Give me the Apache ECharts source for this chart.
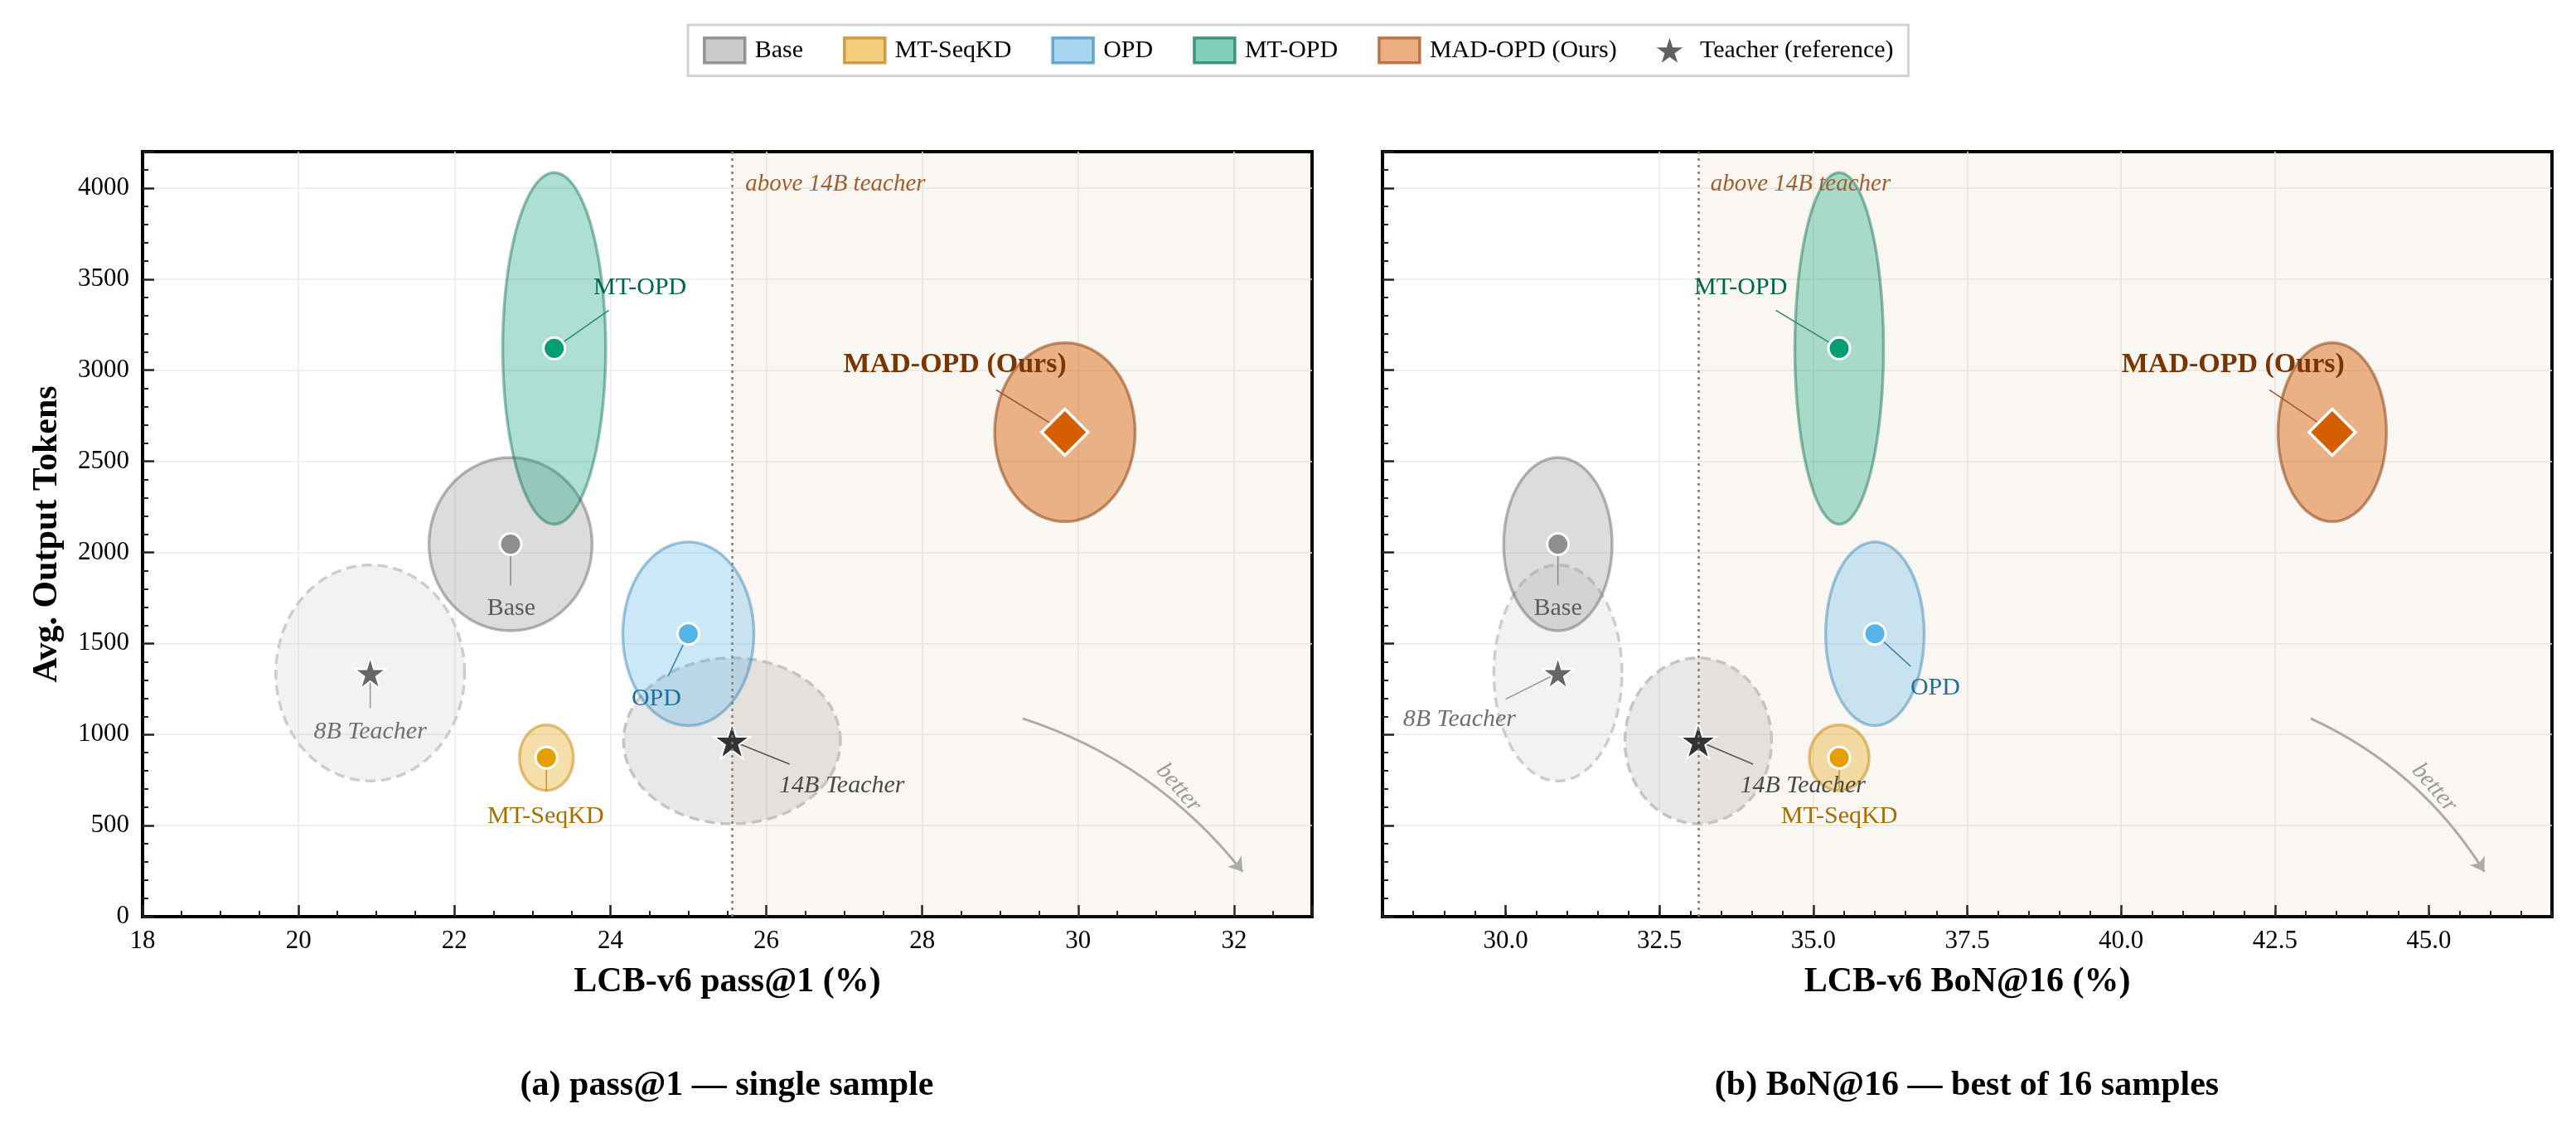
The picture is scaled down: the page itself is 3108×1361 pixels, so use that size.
<!DOCTYPE html>
<html>
<head>
<meta charset="utf-8">
<script src="https://cdn.jsdelivr.net/npm/echarts@6/dist/echarts.min.js"></script>
<style>
  html, body { margin: 0; padding: 0; background: #fff; }
  #chart { width: 3108px; height: 1361px; }
</style>
</head>
<body>
<div id="chart"></div>
<script>
// ---- data ----
var methods = ['Base', 'MT-SeqKD', 'OPD', 'MT-OPD', 'MAD-OPD (Ours)'];
var teachers = ['8B Teacher', '14B Teacher'];

// avg output tokens (same in both panels) and spread
var tokens = [2045, 873, 1553, 3120, 2660];
var tokensSd = [475, 180, 504, 965, 491];
var teacherTokens = [1338, 965];
var teacherTokensSd = [593, 455];

// (a) pass@1
var pass1 = [22.72, 23.18, 25.0, 23.28, 29.83];
var pass1Sd = [1.045, 0.345, 0.84, 0.66, 0.90];
var teacherPass1 = [20.92, 25.56];
var teacherPass1Sd = [1.21, 1.39];

// (b) BoN@16
var bon16 = [30.85, 35.42, 36.0, 35.42, 43.43];
var bon16Sd = [0.88, 0.485, 0.80, 0.72, 0.88];
var teacherBon16 = [30.85, 33.13];
var teacherBon16Sd = [1.04, 1.19];

// tick labels of the BoN axis
var bonTicks = [30, 32.5, 35, 37.5, 40, 42.5, 45];

// label anchors [labelX, labelY, leaderEndX, leaderEndY]; order = methods, then teachers
var pass1Notes = [
  [22.73, 1692, 22.72, 1820],
  [23.17, 548, 23.18, 687],
  [24.59, 1194, 24.74, 1319],
  [24.38, 3454, 23.98, 3329],
  [28.42, 3028, 28.95, 2892],
  [20.92, 1013, 20.92, 1146],
  [26.97, 720, 26.30, 837]
];
var bon16Notes = [
  [30.85, 1692, 30.85, 1820],
  [35.42, 548, 35.42, 700],
  [36.98, 1255, 36.58, 1375],
  [33.82, 3454, 34.39, 3329],
  [41.82, 3028, 42.41, 2892],
  [29.25, 1082, 30.0, 1194],
  [34.83, 720, 34.02, 837]
];
var pass1Arrow = [[29.29, 1088], [32.11, 247]];
var bon16Arrow = [[43.08, 1088], [45.90, 247]];
var pass1Better = [31.29, 707];
var bon16Better = [45.09, 707];
var pass1Above = [25.73, 4022];
var bon16Above = [33.33, 4022];

// ---- styles ----
var FONT = '"Liberation Serif", "Times New Roman", serif';
var pointColor = ['#8e8e8e', '#e69f00', '#56b4e9', '#009e73', '#d55e00'];
var ellStyle = [
  { fill: 'rgba(150,150,150,0.33)', stroke: 'rgba(110,110,110,0.5)' },
  { fill: 'rgba(230,159,0,0.33)', stroke: 'rgba(200,135,10,0.5)' },
  { fill: 'rgba(86,180,233,0.3)', stroke: 'rgba(50,130,180,0.45)' },
  { fill: 'rgba(0,158,115,0.32)', stroke: 'rgba(20,110,85,0.45)' },
  { fill: 'rgba(213,94,0,0.45)', stroke: 'rgba(140,70,20,0.55)' },
  { fill: 'rgba(160,160,160,0.14)', stroke: '#cdcdcd', dash: [12, 7] },
  { fill: 'rgba(140,140,140,0.2)', stroke: '#c6c3c0', dash: [12, 7] }
];
var noteColor = ['#5c5c5c', '#a86f00', '#1f6f9f', '#00664a', '#7a3500', '#707070', '#4a4a4a'];
var leaderColor = ['#8a8a8a', '#c9973a', '#3a87b5', '#2e8b6d', '#9a5a30', '#9a9a9a', '#555555'];
var starPath = 'path://M50 0 L61.17 34.63 L97.55 34.55 L68.07 55.87 L79.39 90.45 L50 69 L20.61 90.45 L31.93 55.87 L2.45 34.55 L38.83 34.63 Z';

var chart = echarts.init(document.getElementById('chart'));

function ellipseItem(params, api) {
  var cx = api.value(0), cy = api.value(1), rx = api.value(2), ry = api.value(3), k = api.value(4);
  var pts = [];
  for (var i = 0; i < 144; i++) {
    var t = i / 144 * Math.PI * 2;
    pts.push(api.coord([cx + rx * Math.cos(t), cy + ry * Math.sin(t)]));
  }
  var s = ellStyle[k];
  return {
    type: 'polygon',
    shape: { points: pts },
    style: { fill: s.fill, stroke: s.stroke, lineWidth: 3.5, lineDash: s.dash || null }
  };
}

function leaderItem(params, api) {
  var p0 = api.coord([api.value(0), api.value(1)]);
  var p1 = api.coord([api.value(2), api.value(3)]);
  return {
    type: 'line',
    shape: { x1: p0[0], y1: p0[1], x2: p1[0], y2: p1[1] },
    style: { stroke: leaderColor[api.value(4)], lineWidth: 1.6 }
  };
}

function noteItem(params, api) {
  var k = api.value(2);
  var p = api.coord([api.value(0), api.value(1)]);
  var isTeacher = k >= 5;
  var isOurs = k === 4;
  return {
    type: 'text',
    x: p[0], y: p[1],
    style: {
      text: isTeacher ? teachers[k - 5] : methods[k],
      fill: noteColor[k],
      fontFamily: FONT,
      fontSize: isOurs ? 34 : 30,
      fontWeight: isOurs ? 'bold' : 'normal',
      fontStyle: isTeacher ? 'italic' : 'normal',
      align: 'center',
      verticalAlign: 'middle'
    }
  };
}

function panelSeries(xi, xs, xsSd, tX, tXSd, notes, arrow, betterPos, abovePos, xMax) {
  var ell = [
    [tX[0], teacherTokens[0], tXSd[0], teacherTokensSd[0], 5],
    [tX[1], teacherTokens[1], tXSd[1], teacherTokensSd[1], 6]
  ];
  var leaders = [], labels = [];
  for (var i = 0; i < 5; i++) {
    ell.push([xs[i], tokens[i], xsSd[i], tokensSd[i], i]);
    leaders.push([xs[i], tokens[i], notes[i][2], notes[i][3], i]);
    labels.push([notes[i][0], notes[i][1], i]);
  }
  for (var j = 0; j < 2; j++) {
    leaders.push([tX[j], teacherTokens[j], notes[5 + j][2], notes[5 + j][3], 5 + j]);
    labels.push([notes[5 + j][0], notes[5 + j][1], 5 + j]);
  }
  var circles = [];
  for (var c = 0; c < 4; c++) {
    circles.push({ value: [xs[c], tokens[c]], itemStyle: { color: pointColor[c] } });
  }
  var ax = { xAxisIndex: xi, yAxisIndex: xi };
  return [
    Object.assign({
      type: 'scatter', data: [], silent: true, z: 1,
      markArea: {
        silent: true,
        itemStyle: { color: 'rgba(192,143,93,0.08)' },
        data: [[{ xAxis: tX[1] }, { xAxis: xMax }]]
      },
      markLine: {
        silent: true, symbol: 'none', label: { show: false },
        lineStyle: { color: '#8c7a6b', width: 2.5, type: [3, 5] },
        data: [{ xAxis: tX[1] }]
      }
    }, ax),
    Object.assign({ type: 'custom', renderItem: ellipseItem, data: ell, silent: true, z: 2,
      encode: { x: 0, y: 1 } }, ax),
    Object.assign({ type: 'custom', renderItem: leaderItem, data: leaders, silent: true, z: 3,
      encode: { x: 0, y: 1 } }, ax),
    Object.assign({
      type: 'lines', coordinateSystem: 'cartesian2d', silent: true, z: 3,
      symbol: ['none', 'arrow'], symbolSize: 16,
      lineStyle: { color: '#ababab', width: 3, curveness: 0.15, opacity: 1 },
      data: [{ coords: arrow }]
    }, ax),
    Object.assign({
      type: 'scatter', silent: true, z: 4, symbol: 'circle', symbolSize: 26,
      itemStyle: { borderColor: '#fff', borderWidth: 3, opacity: 1 },
      data: circles
    }, ax),
    Object.assign({
      type: 'scatter', silent: true, z: 4, symbol: 'diamond', symbolSize: 56,
      itemStyle: { color: pointColor[4], borderColor: '#fff', borderWidth: 3.5, opacity: 1 },
      data: [[xs[4], tokens[4]]]
    }, ax),
    Object.assign({
      type: 'scatter', silent: true, z: 4, symbol: starPath,
      itemStyle: { borderColor: '#fff', borderWidth: 2, opacity: 1 },
      data: [
        { value: [tX[0], teacherTokens[0]], symbolSize: [38, 38], itemStyle: { color: '#666' } },
        { value: [tX[1], teacherTokens[1]], symbolSize: [44, 43], itemStyle: { color: '#333' } }
      ]
    }, ax),
    Object.assign({ type: 'custom', renderItem: noteItem, data: labels, silent: true, z: 5,
      encode: { x: 0, y: 1 } }, ax),
    Object.assign({
      type: 'custom', silent: true, z: 5, encode: { x: 0, y: 1 },
      data: [[betterPos[0], betterPos[1], 0], [abovePos[0], abovePos[1], 1]],
      renderItem: function (params, api) {
        var p = api.coord([api.value(0), api.value(1)]);
        if (api.value(2) === 0) {
          return { type: 'text', x: p[0], y: p[1], rotation: -0.86,
            style: { text: 'better', fill: '#9a9a9a', fontFamily: FONT, fontSize: 29,
              fontStyle: 'italic', align: 'center', verticalAlign: 'middle' } };
        }
        return { type: 'text', x: p[0], y: p[1],
          style: { text: 'above 14B teacher', fill: '#a0612f', fontFamily: FONT, fontSize: 29,
            fontStyle: 'italic', align: 'left', verticalAlign: 'middle' } };
      }
    }, ax)
  ];
}

var axisLine = { show: true, onZero: false, lineStyle: { color: '#000', width: 3.5 } };
var axisTick = { show: true, inside: true, length: 14, lineStyle: { color: '#222', width: 2.5 } };
var minorTick = { show: true, length: 7, lineStyle: { color: '#222', width: 2 } };
var splitLine = { show: true, showMinLine: false, showMaxLine: false, lineStyle: { color: '#ebebeb', width: 1.5 } };
var tickLabel = { color: '#000', fontFamily: FONT, fontSize: 31 };
var nameStyle = { color: '#000', fontFamily: FONT, fontSize: 42, fontWeight: 'bold' };

var legendItems = [
  { name: methods[0], icon: 'rect', itemStyle: { color: '#bdbdbd', borderColor: '#808080', borderWidth: 3.5 } },
  { name: methods[1], icon: 'rect', itemStyle: { color: '#f0c25e', borderColor: '#c08c2c', borderWidth: 3.5 } },
  { name: methods[2], icon: 'rect', itemStyle: { color: '#94cdee', borderColor: '#4f95c0', borderWidth: 3.5 } },
  { name: methods[3], icon: 'rect', itemStyle: { color: '#5fc2a5', borderColor: '#237f62', borderWidth: 3.5 } },
  { name: methods[4], icon: 'rect', itemStyle: { color: '#e79a62', borderColor: '#a85f30', borderWidth: 3.5 } },
  { name: 'Teacher (reference)', icon: starPath, itemStyle: { color: '#3a3a3a', borderWidth: 0 } }
];

var series = panelSeries(0, pass1, pass1Sd, teacherPass1, teacherPass1Sd, pass1Notes,
  pass1Arrow, pass1Better, pass1Above, 33)
  .concat(panelSeries(1, bon16, bon16Sd, teacherBon16, teacherBon16Sd, bon16Notes,
  bon16Arrow, bon16Better, bon16Above, 47));
// empty series so the legend has entries
legendItems.forEach(function (it) {
  series.push({ type: 'scatter', name: it.name, data: [], xAxisIndex: 0, yAxisIndex: 0 });
});

var option = {
  animation: false,
  backgroundColor: '#fff',
  legend: {
    left: 830, top: 30,
    padding: [14, 18],
    itemGap: 48, itemWidth: 49, itemHeight: 30,
    borderColor: '#d3d3d3', borderWidth: 3, borderRadius: 0,
    textStyle: { fontFamily: FONT, fontSize: 30, color: '#000', padding: [0, 0, 0, 7] },
    data: legendItems,
    selectedMode: false
  },
  grid: [
    { left: 172, top: 183, width: 1411, height: 923, show: true, borderColor: '#000', borderWidth: 4, backgroundColor: 'transparent' },
    { left: 1668, top: 183, width: 1411, height: 923, show: true, borderColor: '#000', borderWidth: 4, backgroundColor: 'transparent' }
  ],
  xAxis: [
    {
      gridIndex: 0, type: 'value', min: 18, max: 33, interval: 2,
      name: 'LCB-v6 pass@1 (%)', nameLocation: 'middle', nameGap: 58, nameTextStyle: nameStyle,
      axisLine: axisLine, axisTick: axisTick,
      minorTick: Object.assign({ splitNumber: 4 }, minorTick),
      splitLine: splitLine,
      axisLabel: Object.assign({ margin: 14, showMaxLabel: false }, tickLabel)
    },
    {
      gridIndex: 1, type: 'value', min: 28, max: 47,
      name: 'LCB-v6 BoN@16 (%)', nameLocation: 'middle', nameGap: 58, nameTextStyle: nameStyle,
      axisLine: axisLine,
      axisTick: Object.assign({ customValues: bonTicks }, axisTick),
      splitLine: splitLine,
      axisLabel: Object.assign({ margin: 14, customValues: bonTicks,
        formatter: function (v) { return v.toFixed(1); } }, tickLabel)
    },
    {
      gridIndex: 1, type: 'value', min: 28, max: 47, interval: 0.5, position: 'bottom',
      axisLine: { show: false },
      axisTick: { show: true, inside: true, length: 7, lineStyle: { color: '#222', width: 2 } },
      axisLabel: { show: false }, splitLine: { show: false }
    }
  ],
  yAxis: [
    {
      gridIndex: 0, type: 'value', min: 0, max: 4200, interval: 500,
      name: 'Avg. Output Tokens', nameLocation: 'middle', nameGap: 94, nameRotate: 90,
      nameTextStyle: nameStyle,
      axisLine: axisLine, axisTick: axisTick,
      minorTick: Object.assign({ splitNumber: 5 }, minorTick),
      splitLine: splitLine,
      axisLabel: Object.assign({ margin: 16, showMaxLabel: false,
        formatter: function (v) { return String(v); } }, tickLabel)
    },
    {
      gridIndex: 1, type: 'value', min: 0, max: 4200, interval: 500,
      axisLine: axisLine, axisTick: axisTick,
      minorTick: Object.assign({ splitNumber: 5 }, minorTick),
      splitLine: splitLine,
      axisLabel: { show: false }
    }
  ],
  graphic: [
    { type: 'text', x: 877, y: 1310, style: { text: '(a) pass@1 — single sample', fill: '#000',
      fontFamily: FONT, fontSize: 42, fontWeight: 'bold', align: 'center', verticalAlign: 'middle' } },
    { type: 'text', x: 2373, y: 1310, style: { text: '(b) BoN@16 — best of 16 samples', fill: '#000',
      fontFamily: FONT, fontSize: 42, fontWeight: 'bold', align: 'center', verticalAlign: 'middle' } }
  ],
  series: series
};

chart.setOption(option);
</script>
</body>
</html>
